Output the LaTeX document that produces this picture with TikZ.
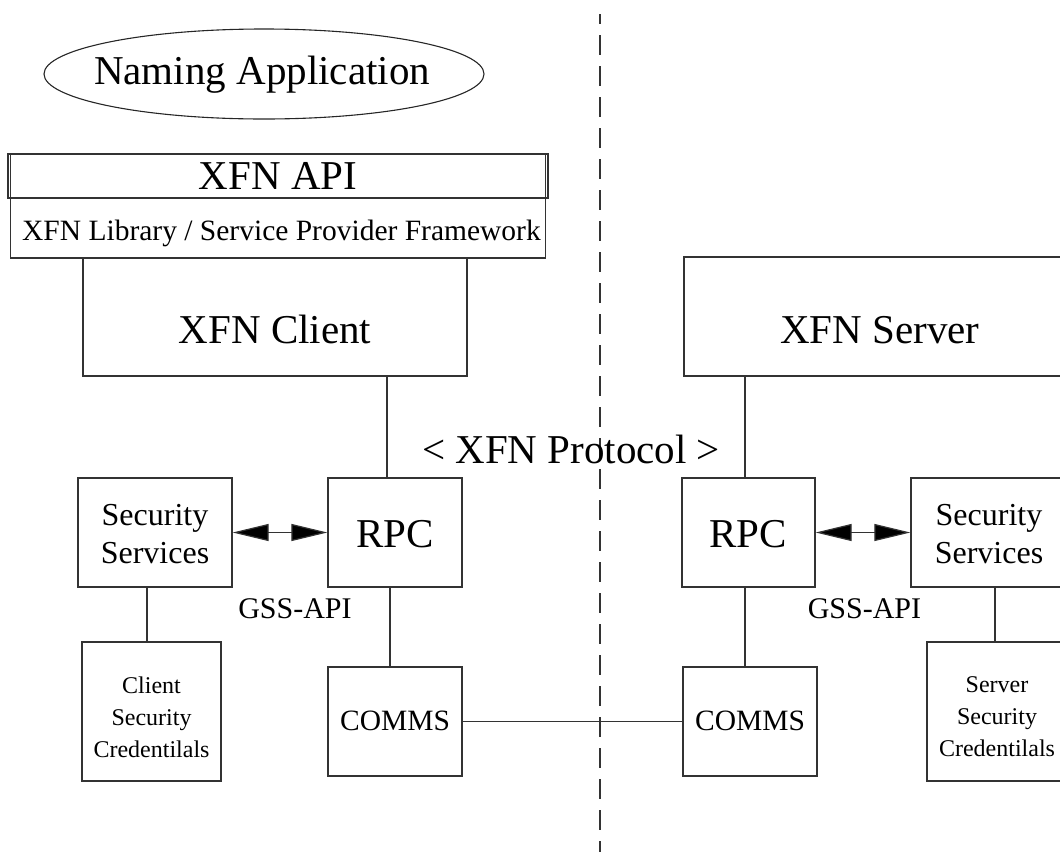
\documentclass[tikz,border=0pt]{standalone}
\usepackage{fontspec}
\setmainfont{Liberation Serif}
\usetikzlibrary{shapes.geometric,arrows.meta}
\tikzset{
  box/.style={draw=black!80, line width=1.3pt, rectangle, inner sep=0pt, align=center},
  wire/.style={draw=black!80, line width=1.2pt},
  biarrow/.style={wire, {Triangle[length=36pt,width=17pt,fill=black]}-{Triangle[length=36pt,width=17pt,fill=black]}},
  big/.style={font=\fontsize{41}{46}\selectfont, inner sep=0pt, anchor=base},
  mid/.style={font=\fontsize{32}{38}\selectfont, inner sep=0pt, align=center},
  label/.style={font=\fontsize{30}{34}\selectfont, inner sep=0pt, anchor=base},
  small/.style={font=\fontsize{24}{32}\selectfont, inner sep=0pt, align=center}
}
% rectangular box from its corners (x1,y1) and (x2,y2), y counted downwards
\newcommand{\boxat}[5]{%
  \node[box, minimum width={(#4-#2)*1pt}, minimum height={(#5-#3)*1pt}]
    (#1) at ({(#2+#4)/2*1pt}, {-(#3+#5)/2*1pt}) {};}
\begin{document}
\begin{tikzpicture}[x=1pt,y=-1pt]
\useasboundingbox (0,0) rectangle (1060,852);
\clip (0,0) rectangle (1060,852);

% border between client side and server side
\draw[wire, line width=1.1pt, dash pattern=on 20pt off 11pt, dash phase=10pt] (600,14) -- (600,852);

% naming application
\node[draw=black!85, line width=1.1pt, ellipse, minimum width=440pt, minimum height=90pt]
  (app) at (264,74) {};
\node[big] (apptext) at (262,84) {Naming Application};

% client side stack
\boxat{apihead}{8}{154}{548}{198}
\draw[wire] (10.5,154) -- (10.5,198) (545.5,154) -- (545.5,198);
\node[big] (apitext) at (278,189.5) {XFN API};
\boxat{lib}{10.5}{198}{545.5}{258}
\node[font=\fontsize{29.5}{33}\selectfont, inner sep=0pt, anchor=base west] (libtext) at (22,240) {XFN Library / Service Provider Framework};
\boxat{client}{83}{258}{467}{376}
\node[big] (clienttext) at (275,343) {XFN Client};

\boxat{secL}{78}{478}{232}{587}
\node[mid] (secLtext) at (155,534) {Security\\Services};
\boxat{rpcL}{328}{478}{462}{587}
\node[big] (rpcLtext) at (395,547) {RPC};
\boxat{credL}{82}{642}{221}{781}
\node[small] (credLtext) at (151.5,717) {Client\\Security\\Credentilals};
\boxat{commsL}{328}{667}{462}{776}
\node[label, font=\fontsize{29.5}{34}\selectfont] (commsLtext) at (395,730) {COMMS};

% server side stack
\boxat{server}{684}{257}{1076}{376}
\node[big] (servertext) at (880,343) {XFN Server};
\boxat{rpcR}{682}{478}{815}{587}
\node[big] (rpcRtext) at (748,547) {RPC};
\boxat{secR}{911}{478}{1067}{587}
\node[mid] (secRtext) at (989,534) {Security\\Services};
\boxat{commsR}{683}{667}{817}{776}
\node[label, font=\fontsize{29.5}{34}\selectfont] (commsRtext) at (750,730) {COMMS};
\boxat{credR}{927}{642}{1067}{781}
\node[small] (credRtext) at (997,717) {Server\\Security\\Credentilals};

% labels between the stacks
\node[big] (proto) at (571,463) {< XFN Protocol >};
\node[label] (gssL) at (295,618) {GSS-API};
\node[label] (gssR) at (864.5,618) {GSS-API};

% connectors
\draw[wire] ([xshift=-8pt]rpcL.north) -- ([xshift=-8pt]rpcL.north |- client.south);
\draw[wire] ([xshift=-5pt]rpcL.south) -- ([xshift=-5pt]rpcL.south |- commsL.north);
\draw[wire] ([xshift=-4.5pt]credL.north) -- ([xshift=-4.5pt]credL.north |- secL.south);
\draw[biarrow] (secL.east) -- (rpcL.west);
\draw[wire] (commsL.east) -- (commsR.west);
\draw[wire] ([xshift=-3.5pt]rpcR.north) -- ([xshift=-3.5pt]rpcR.north |- server.south);
\draw[wire] ([xshift=-3.5pt]rpcR.south) -- ([xshift=-3.5pt]rpcR.south |- commsR.north);
\draw[wire] ([xshift=-2pt]credR.north) -- ([xshift=-2pt]credR.north |- secR.south);
\draw[biarrow] (rpcR.east) -- (secR.west);
\end{tikzpicture}
\end{document}
